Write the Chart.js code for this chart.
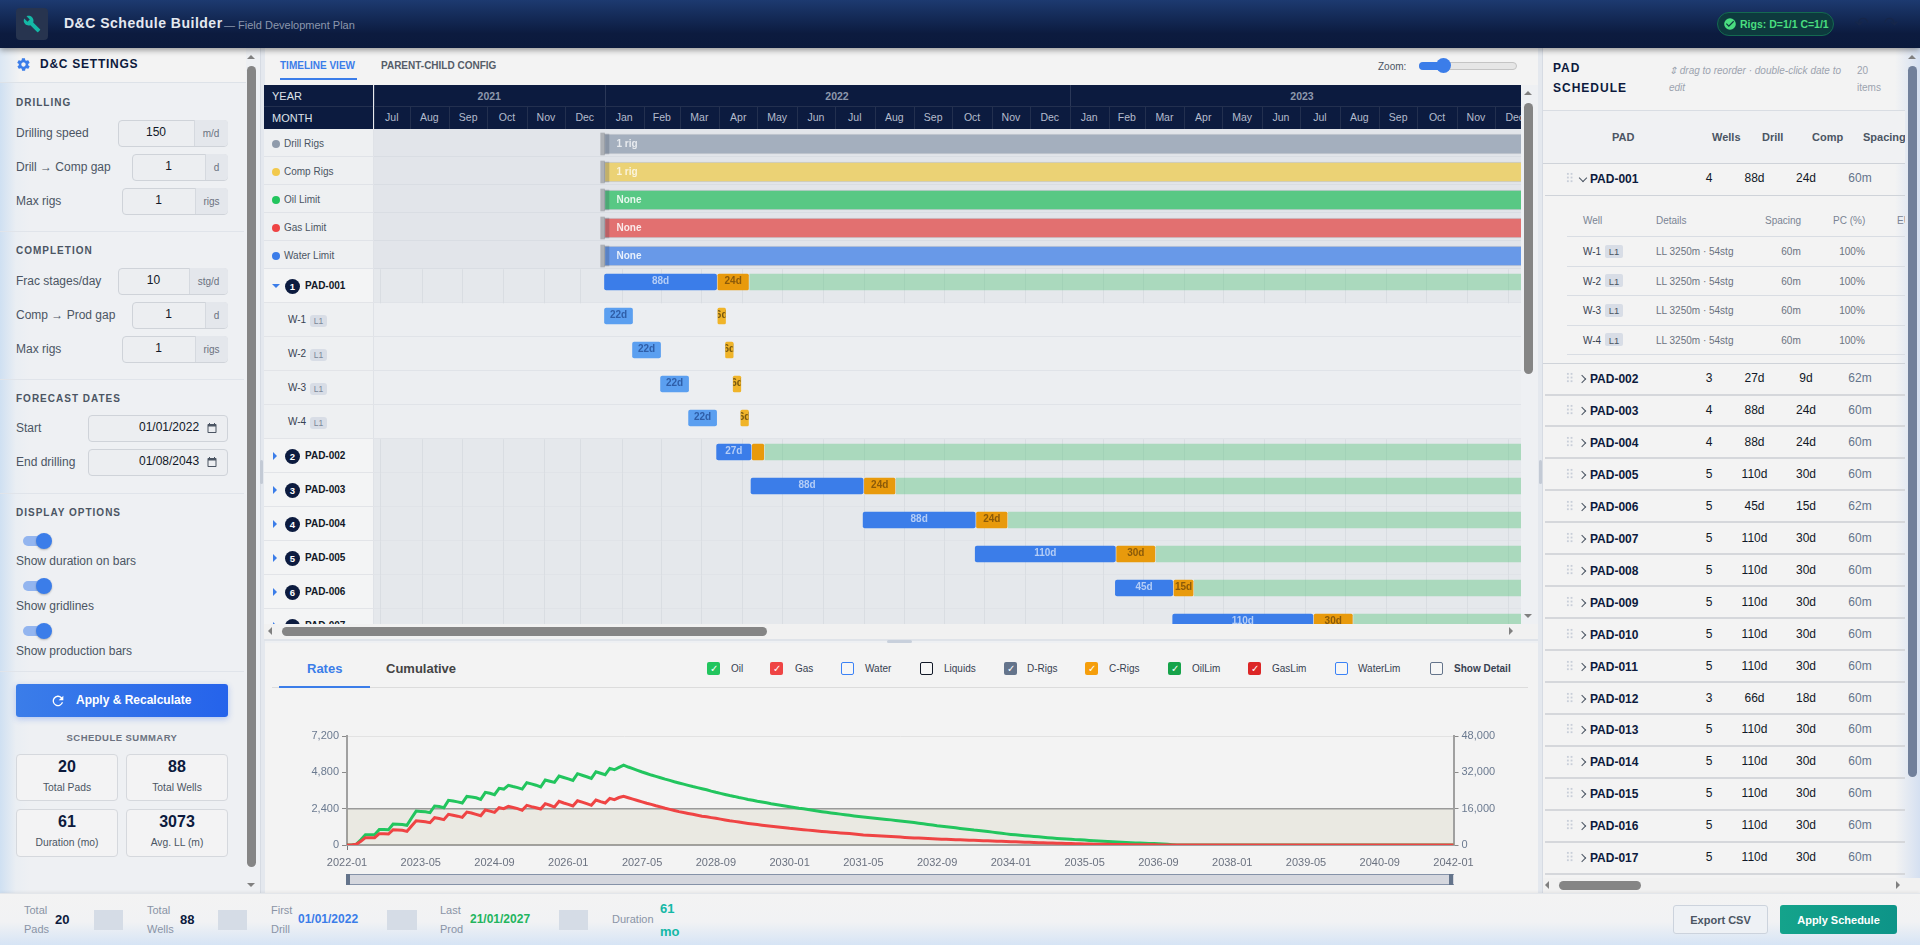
<!DOCTYPE html>
<html>
<head>
<meta charset="utf-8">
<title>D&amp;C Schedule Builder</title>
<script src="https://cdn.jsdelivr.net/npm/chart.js@4/dist/chart.umd.js"></script>
<style>
  html, body { margin: 0; padding: 0; width: 1920px; height: 945px; overflow: hidden; background: #eef0f3; }
  body { font-family: "Liberation Sans", Arial, sans-serif; font-size: 12px; color: #4b5563; }
  #page { position: absolute; left: 0; top: 0; width: 1920px; height: 945px; overflow: hidden; }
  .b { position: absolute; box-sizing: border-box; }
  .t { position: absolute; white-space: nowrap; transform: translateY(-50%); }
  .c { position: absolute; white-space: nowrap; transform: translate(-50%, -50%); text-align: center; }
  .layer { position: absolute; left: 0; top: 0; width: 1920px; height: 945px; }
  canvas { position: absolute; display: block; }
</style>
</head>
<body>
<div id="page"></div>
<script>
// ---- production chart data (monthly from 2022-01 to 2042-01)
const oilRate = [
  0,0,44,350,680,680,680,1030,1020,1010,1385,1375,
  1360,1300,1780,2240,2220,2190,2135,2575,2540,2465,2950,2900,
  2850,2770,3210,3170,3120,3015,3475,3420,3320,3740,3695,3940,
  3860,3790,3695,4115,4040,3950,3830,4290,4210,4135,4555,4460,
  4370,4270,4710,4610,4510,4400,4840,4740,4640,5060,4970,5130,
  5280,5150,5040,4930,4820,4720,4620,4530,4440,4350,4270,4180,
  4100,4020,3940,3860,3790,3720,3650,3560,3480,3410,3340,3270,
  3210,3140,3080,3010,2950,2890,2840,2790,2730,2680,2630,2580,
  2530,2480,2430,2390,2340,2290,2245,2200,2160,2120,2080,2040,
  2000,1960,1920,1885,1850,1820,1790,1755,1720,1690,1660,1625,
  1590,1555,1520,1480,1440,1400,1360,1320,1275,1240,1205,1170,
  1135,1095,1055,1020,985,960,930,890,850,810,770,735,
  700,670,640,615,590,565,540,510,480,455,430,410,
  395,375,355,340,325,305,285,265,250,235,220,205,
  190,170,150,135,125,115,105,95,85,65,45,20,
  0,0,0,0,0,0,0,0,0,0,0,0, 0,0,0,0,0,0,0,0,0,0,0,0, 0,0,0,0,0,0,0,0,0,0,0,0,
  0,0,0,0,0,0,0,0,0,0,0,0, 0,0,0,0,0,0,0,0,0,0,0,0, 0
];
const gasRate = [
  0,0,290,1600,3230,3230,3230,4990,4950,4840,6750,6600,
  6450,6010,8400,10700,10500,10200,9830,12030,11700,11150,13500,13100,
  12700,12180,14520,14100,13500,12910,15400,14900,14380,16430,15990,17020,
  16500,16000,15260,17460,16900,16400,15840,18190,17500,16720,19220,18500,
  17900,17160,19510,18900,18200,17460,19800,19100,18480,20540,19950,20900,
  21420,20800,20200,19600,19000,18400,17900,17300,16800,16200,15700,15200,
  14700,14300,13900,13500,13100,12700,12400,12050,11740,11400,11050,10700,
  10400,10100,9800,9500,9240,8980,8740,8500,8270,8050,7840,7590,
  7340,7140,6940,6740,6550,6350,6160,5980,5810,5640,5480,5320,
  5170,5020,4820,4600,4400,4290,4170,4060,3950,3840,3710,3600,
  3480,3350,3230,3130,3030,2930,2840,2740,2640,2570,2490,2420,
  2350,2270,2200,2130,2060,1990,1920,1850,1780,1700,1620,1550,
  1470,1400,1320,1240,1170,1100,1040,980,920,870,810,760,
  700,650,590,530,440,410,380,350,320,290,260,230,
  200,170,150,130,110,95,80,65,50,40,30,20,
  0,0,0,0,0,0,0,0,0,0,0,0, 0,0,0,0,0,0,0,0,0,0,0,0, 0,0,0,0,0,0,0,0,0,0,0,0,
  0,0,0,0,0,0,0,0,0,0,0,0, 0,0,0,0,0,0,0,0,0,0,0,0, 0
];
const limitLevel = [2400, 2400];
const monthLabels = [];
for (let y = 2022; y <= 2042; y++) for (let m = 1; m <= (y == 2042 ? 1 : 12); m++) monthLabels.push(y + "-" + String(m).padStart(2, "0"));

// ---- gantt data, days counted from 01/01/2022
const limitRows = ["Drill Rigs", "Comp Rigs", "Oil Limit", "Gas Limit", "Water Limit"];
const limitTags = ["1 rig", "1 rig", "None", "None", "None"];
const limitColors = ["#a4afbe", "#ebd275", "#58c884", "#e27070", "#6899e8"];
const limitDots = ["#8f9bab", "#f2c94c", "#22c55e", "#ef4444", "#3b7de9"];
const ganttRows = ["PAD-001","W-1","W-2","W-3","W-4","PAD-002","PAD-003","PAD-004","PAD-005","PAD-006","PAD-007"];
const drillSpans = [[0,88],[0,22],[22,44],[44,66],[66,88],[88,115],[115,203],[203,291],[291,401],[401,446],[446,556]];
const compSpans = [[89,113],[89,95],[95,101],[101,107],[107,113],[116,125],[204,228],[292,316],[402,432],[447,462],[557,587]];
const prodSpans = [[114,720],null,null,null,null,[126,720],[229,720],[317,720],[433,720],[463,720],[588,720]];
const drillTags = ["88d","22d","22d","22d","22d","27d","88d","88d","110d","45d","110d"];
const compTags = ["24d","6d","6d","6d","6d","","24d","24d","30d","15d","30d"];
const gridDays = [-176,-143.5,-112,-80,-47.7,-19,13.5,44,76,107.6,139.6,171.7,203.4,235.4,266.2,298,330.3,359.3,391.5,422.9,455.1,485.7,517.9,550,581.5,613.6,645,677.2,709.4];

// ---- pad table data
const padNames = ["PAD-002","PAD-003","PAD-004","PAD-005","PAD-006","PAD-007","PAD-008","PAD-009","PAD-010","PAD-011","PAD-012","PAD-013","PAD-014","PAD-015","PAD-016","PAD-017"];
const padWells = [3,4,4,5,5,5,5,5,5,5,3,5,5,5,5,5];
const padDrill = ["27d","88d","88d","110d","45d","110d","110d","110d","110d","110d","66d","110d","110d","110d","110d","110d"];
const padComp = ["9d","24d","24d","30d","15d","30d","30d","30d","30d","30d","18d","30d","30d","30d","30d","30d"];
const padSpacing = ["62m","60m","60m","60m","62m","60m","60m","60m","60m","60m","60m","60m","60m","60m","60m","60m"];
const padLegend = [["Oil","#22c55e",1,707,731],["Gas","#ef4444",1,770,795],["Water","#3b82f6",0,841,865],["Liquids","#111827",0,920,944],["D-Rigs","#64748b",1,1004,1027],["C-Rigs","#f59e0b",1,1085,1109],["OilLim","#16a34a",1,1168,1192],["GasLim","#dc2626",1,1248,1272],["WaterLim","#3b82f6",0,1335,1358],["Show Detail","#64748b",0,1430,1454]];

// ---- small dom helpers, everything is in page pixels
const page = document.getElementById("page");
function box(x, y, w, h, css, parent) {
  const d = document.createElement("div");
  d.className = "b";
  d.style.cssText = `left:${x}px;top:${y}px;width:${w}px;height:${h}px;${css || ""}`;
  (parent || page).appendChild(d);
  return d;
}
function txt(x, y, s, css, parent) {
  const d = document.createElement("div");
  d.className = "t";
  d.style.cssText = `left:${x}px;top:${y}px;${css || ""}`;
  d.textContent = s;
  (parent || page).appendChild(d);
  return d;
}
function mid(x, y, s, css, parent) {
  const d = txt(x, y, s, css, parent);
  d.className = "c";
  return d;
}
function layer(x0, y0, x1, y1) {
  const d = document.createElement("div");
  d.className = "layer";
  d.style.clipPath = `polygon(${x0}px ${y0}px,${x1}px ${y0}px,${x1}px ${y1}px,${x0}px ${y1}px)`;
  page.appendChild(d);
  return d;
}
function tri(x, y, dir, size, color, parent) {
  const s = size, side = `${s}px solid transparent`, full = `${s}px solid ${color}`;
  const css = { up: `border-left:${side};border-right:${side};border-bottom:${full};`, down: `border-left:${side};border-right:${side};border-top:${full};`, left: `border-top:${side};border-bottom:${side};border-right:${full};`, right: `border-top:${side};border-bottom:${side};border-left:${full};` }[dir];
  box(x - s, y - s / 2 - (dir == "left" || dir == "right" ? s / 2 : 0), 2 * s, dir == "left" || dir == "right" ? 2 * s : s, "width:auto;height:auto;" + css, parent);
}
function icon(x, y, size, path, color, parent) {
  const d = box(x, y, size, size, "", parent);
  d.innerHTML = `<svg xmlns="http://www.w3.org/2000/svg" viewBox="0 0 24 24" width="${size}" height="${size}" fill="${color}">${path}</svg>`;
}
const ICON_WRENCH = '<path d="M22.7 19l-9.1-9.1c.9-2.3.4-5-1.5-6.9-2-2-5-2.4-7.4-1.3L9 6 6 9 1.6 4.7C.4 7.1.9 10.1 2.9 12.1c1.9 1.9 4.6 2.4 6.9 1.5l9.1 9.1c.4.4 1 .4 1.4 0l2.3-2.3c.5-.4.5-1.1.1-1.4z"/>';
const ICON_GEAR = '<path d="M19.4 13c.1-.3.1-.7.1-1s0-.7-.1-1l2.1-1.6c.2-.2.2-.4.1-.6l-2-3.5c-.1-.2-.4-.3-.6-.2l-2.5 1c-.5-.4-1.1-.7-1.7-1l-.4-2.7c0-.2-.3-.4-.5-.4h-4c-.2 0-.5.2-.5.4l-.4 2.7c-.6.3-1.2.6-1.7 1l-2.5-1c-.2-.1-.5 0-.6.2l-2 3.5c-.1.2-.1.5.1.6L4.6 11c-.1.3-.1.7-.1 1s0 .7.1 1l-2.1 1.6c-.2.2-.2.4-.1.6l2 3.5c.1.2.4.3.6.2l2.5-1c.5.4 1.1.7 1.7 1l.4 2.7c0 .2.3.4.5.4h4c.2 0 .5-.2.5-.4l.4-2.7c.6-.3 1.2-.6 1.7-1l2.5 1c.2.1.5 0 .6-.2l2-3.5c.1-.2.1-.5-.1-.6L19.4 13zM12 15.5c-1.9 0-3.5-1.6-3.5-3.5s1.6-3.5 3.5-3.5 3.5 1.6 3.5 3.5-1.6 3.5-3.5 3.5z"/>';
const ICON_CAL = '<path d="M19 4h-1V2h-2v2H8V2H6v2H5C3.9 4 3 4.9 3 6v14c0 1.1.9 2 2 2h14c1.1 0 2-.9 2-2V6c0-1.1-.9-2-2-2zm0 16H5V9h14v11z"/>';
const ICON_REFRESH = '<path d="M17.7 6.3A8 8 0 1 0 19.7 14h-2.1a6 6 0 1 1-1.4-6.2L13 11h7V4l-2.3 2.3z"/>';
const ICON_CHECK = '<path d="M12 2a10 10 0 1 0 0 20 10 10 0 0 0 0-20zm-2 15l-5-5 1.4-1.4L10 14.2l7.6-7.6L19 8l-9 9z"/>';

// ---- header
box(0, 0, 1920, 48, "background:linear-gradient(180deg,#1d3a70 0%,#0c1b3f 70%,#0b1a3c 100%);box-shadow:0 2px 6px rgba(0,0,0,.4);z-index:5");
const top_ = layer(0, 0, 1920, 48); top_.style.zIndex = 6;
box(16, 8, 32, 32, "background:#27344f;border-radius:4px", top_);
icon(23, 15, 18, ICON_WRENCH, "#14b8a6", top_);
txt(64, 23, "D&C Schedule Builder", "font-size:14px;font-weight:bold;letter-spacing:.5px;color:#e5e9f0", top_);
txt(224, 25, "— Field Development Plan", "font-size:11px;color:#8b97ad", top_);
box(1717, 12, 117, 24, "background:#0d3a3e;border:1px solid #146a50;border-radius:12px", top_);
icon(1723, 17, 14, ICON_CHECK, "#4ade80", top_);
txt(1740, 24, "Rigs: D=1/1 C=1/1", "font-size:10.5px;font-weight:bold;color:#4ade80", top_);
txt(1855, 23, "↶", "font-size:17px;color:#16264a", top_);
txt(1884, 23, "↷", "font-size:17px;color:#16264a", top_);

// ---- left settings panel
box(0, 48, 260, 846, "background:linear-gradient(90deg,#cfe0f2 0,#eaeef3 16px,#eef0f3 30px)");
box(0, 48, 246, 35, "background:linear-gradient(90deg,#dbe7f3 0,#f3f3f3 20px);border-bottom:1px solid #dde2e8");
icon(16, 57, 15, ICON_GEAR, "#3b7de9");
txt(40, 64, "D&C SETTINGS", "font-size:12px;font-weight:bold;letter-spacing:.75px;color:#0c1a3d");
function sectionHead(y, s) { txt(16, y, s, "font-size:10px;font-weight:bold;letter-spacing:1px;color:#4b5563"); }
function sectionLine(y) { box(0, y, 244, 1, "background:#e0e4ea"); }
function field(y, label, value, unit, x0, xu) {
  txt(16, y, label, "font-size:12px;color:#4b5563");
  box(x0, y - 13.5, 228 - x0, 27, "background:#eceef1;border:1px solid #cfd3d9;border-radius:4px");
  box(xu, y - 13, 227.5 - xu, 26, "background:#e4e7ec;border-left:1px solid #d5d9df;border-radius:0 4px 4px 0");
  mid((x0 + xu) / 2, y - 1, value, "font-size:12px;color:#111827");
  mid((xu + 228) / 2, y, unit, "font-size:10px;color:#6b7280");
}
sectionHead(102, "DRILLING");
field(133, "Drilling speed", "150", "m/d", 118, 194);
field(167, "Drill → Comp gap", "1", "d", 132, 205);
field(201, "Max rigs", "1", "rigs", 122, 195);
sectionLine(231);
sectionHead(250, "COMPLETION");
field(281, "Frac stages/day", "10", "stg/d", 118, 189);
field(315, "Comp → Prod gap", "1", "d", 132, 205);
field(349, "Max rigs", "1", "rigs", 122, 195);
sectionLine(379);
sectionHead(398, "FORECAST DATES");
function dateField(y, label, value) {
  txt(16, y, label, "font-size:12px;color:#4b5563");
  box(88, y - 13.5, 140, 27, "background:#eceef1;border:1px solid #cfd3d9;border-radius:4px");
  txt(139, y - 1, value, "font-size:12px;color:#111827");
  icon(206, y - 6, 12, ICON_CAL, "#4b5563");
}
dateField(428, "Start", "01/01/2022");
dateField(462, "End drilling", "01/08/2043");
sectionLine(493);
sectionHead(512, "DISPLAY OPTIONS");
function toggle(y, label) {
  box(23, y - 5, 22, 10, "background:#93b5ef;border-radius:5px");
  box(36, y - 8, 16, 16, "background:#3b7de9;border-radius:50%;box-shadow:0 1px 2px rgba(0,0,0,.25)");
  txt(16, y + 20, label, "font-size:12px;color:#4b5563");
}
toggle(541, "Show duration on bars");
toggle(586, "Show gridlines");
toggle(631, "Show production bars");
sectionLine(671);
box(16, 684, 212, 33, "background:linear-gradient(90deg,#3b7de9,#2563eb);border-radius:3px;box-shadow:0 2px 6px rgba(37,99,235,.3)");
icon(50, 693, 16, ICON_REFRESH, "#fff");
txt(76, 700, "Apply & Recalculate", "font-size:12px;font-weight:bold;color:#fff");
mid(122, 737, "SCHEDULE SUMMARY", "font-size:9.5px;font-weight:bold;letter-spacing:.45px;color:#6b7280");
function statCard(x, y, h, value, label) {
  box(x, y, 102, h, "background:#f3f3f4;border:1px solid #d5d8dd;border-radius:4px");
  mid(x + 51, y + 13, value, "font-size:16px;font-weight:bold;color:#0c1a3d");
  mid(x + 51, y + 32.5, label, "font-size:10.3px;color:#4b5563");
}
statCard(16, 754, 47, "20", "Total Pads");
statCard(126, 754, 47, "88", "Total Wells");
statCard(16, 809, 48, "61", "Duration (mo)");
statCard(126, 809, 48, "3073", "Avg. LL (m)");
// left scrollbar
tri(251.5, 57, "up", 4.5, "#808080");
box(247, 66, 9, 801, "background:#858585;border-radius:5px");
tri(251.5, 885, "down", 4.5, "#808080");
box(260, 48, 5, 846, "background:#e4e8ee;border-left:1px solid #d6dbe3");
box(260, 460, 3, 24, "background:#c3cad5;border-radius:2px");

// ---- middle panel, tabs
box(265, 48, 1273, 37, "background:#f3f3f3");
txt(280, 64.5, "TIMELINE VIEW", "font-size:10px;font-weight:bold;color:#3b7de9");
box(280, 78, 77, 2, "background:#3b7de9");
txt(381, 64.5, "PARENT-CHILD CONFIG", "font-size:10px;font-weight:bold;color:#555c68");
txt(1378, 66, "Zoom:", "font-size:10px;color:#4b5563");
box(1419, 62, 98, 8, "background:#e6e6e6;border:1px solid #c4c4c4;border-radius:4px");
box(1419, 62, 28, 8, "background:#3b7de9;border-radius:4px 0 0 4px");
box(1436, 58, 15, 15, "background:#3b7de9;border-radius:50%");

// ---- gantt shell (header + rows are dom, bars are chart.js)
const DAY0 = 604.5, PX_PER_DAY = 1.274, GANTT_LEFT = 374, GANTT_RIGHT = 1521;
const dayToPx = d => DAY0 + d * PX_PER_DAY;
const dayOf = (y, m) => (Date.UTC(y, m, 1) - Date.UTC(2022, 0, 1)) / 864e5;
const gantt = layer(264, 85, GANTT_RIGHT, 624);
box(264, 85, 1260, 44, "background:#0c1b3f", gantt);
box(264, 106, 1260, 1, "background:#23304f", gantt);
box(373, 85, 1, 44, "background:#e8eaee", gantt);
txt(272, 95.5, "YEAR", "font-size:11px;color:#dfe3ea", gantt);
txt(272, 118, "MONTH", "font-size:11px;color:#dfe3ea", gantt);
[[2021, GANTT_LEFT, dayToPx(0)], [2022, dayToPx(0), dayToPx(365)], [2023, dayToPx(365), dayToPx(730)]].forEach(([y, a, b]) => {
  mid((a + b) / 2, 95.5, String(y), "font-size:10.5px;font-weight:bold;color:#8e98ad", gantt);
  box(a, 85, 1, 21, "background:#2b3858", gantt);
});
const monthNames = ["Jan","Feb","Mar","Apr","May","Jun","Jul","Aug","Sep","Oct","Nov","Dec"];
for (let i = 6; i < 36; i++) {
  const a = Math.max(GANTT_LEFT, dayToPx(dayOf(2021, i))), b = dayToPx(dayOf(2021, i + 1));
  box(a, 107, 1, 22, "background:#23304f", gantt);
  mid((a + b) / 2, 117, monthNames[i % 12], "font-size:10.5px;color:#b4bccd", gantt);
}
limitRows.forEach((name, i) => {
  const y = 129.3 + i * 28;
  box(264, y, 110, 28, "background:#eef0f2;border-bottom:1px solid #e0e3e8;border-right:1px solid #dfe2e7", gantt);
  box(374, y, 1150, 28, "background:#e2e5ea;border-bottom:1px solid #d9dde3", gantt);
  box(272, y + 10.5, 8, 8, `background:${limitDots[i]};border-radius:50%`, gantt);
  txt(284, y + 13.5, name, "font-size:10px;color:#4b5563", gantt);
});
ganttRows.forEach((name, i) => {
  const y = 269.3 + i * 34, isPad = name.startsWith("PAD");
  box(264, y, 110, 34, `background:${isPad ? "#f3f4f5" : "#eef0f2"};border-bottom:1px solid #e2e4e8;border-right:1px solid #dfe2e7`, gantt);
  box(374, y, 1150, 34, `background:${isPad ? "#e5e8ec" : "#eceef1"};border-bottom:1px solid #e0e3e8`, gantt);
  if (isPad) {
    if (i == 0) tri(276.5, y + 17, "down", 4.5, "#3b7de9", gantt); else tri(277, y + 17.5, "right", 4.5, "#3b7de9", gantt);
    box(285, y + 9.5, 15, 15, "background:#0c1b3f;border-radius:50%", gantt);
    const num = i == 0 ? 1 : i - 3;
    mid(292.5, y + 17, String(num), "font-size:9.5px;font-weight:bold;color:#fff", gantt);
    txt(305, y + 16, name, "font-size:10px;font-weight:bold;color:#111827", gantt);
  } else {
    txt(288, y + 15.5, name, "font-size:10px;color:#374151", gantt);
    box(310, y + 11.5, 17, 12, "background:#d8dde6;border-radius:3px", gantt);
    mid(318.5, y + 17.5, "L1", "font-size:8.5px;color:#7b8798", gantt);
  }
});

// writes the little duration / rig captions on the bars, clipped to the bar like the original
const barTags = {
  id: "barTags",
  afterDatasetsDraw(chart) {
    const ctx = chart.ctx;
    ctx.font = "bold 10px 'Liberation Sans'";
    ctx.textBaseline = "middle";
    chart.data.datasets.forEach((ds, d) => {
      if (!ds.tags) return;
      chart.getDatasetMeta(d).data.forEach((bar, i) => {
        if (!ds.tags[i]) return;
        ctx.save();
        ctx.beginPath();
        ctx.rect(bar.base, bar.y - 10, bar.x - bar.base, 20);
        ctx.clip();
        ctx.fillStyle = ds.tagColor(i);
        if (ds.tagLeft) { ctx.textAlign = "left"; ctx.fillText(ds.tags[i], bar.base + ds.tagLeft, bar.y + 0.5); }
        else { ctx.textAlign = "center"; ctx.fillText(ds.tags[i], (bar.x + bar.base) / 2, bar.y - 0.5); }
        ctx.restore();
      });
    });
  }
};
// the month lines only run through the pad rows, not the well rows
const padGrid = {
  id: "padGrid",
  beforeDatasetsDraw(chart) {
    const ctx = chart.ctx, xs = chart.scales.x, ys = chart.scales.y;
    ctx.save();
    ctx.strokeStyle = "#d9dde2";
    ctx.lineWidth = 1;
    ganttRows.forEach((name, i) => {
      if (!name.startsWith("PAD")) return;
      const c = ys.getPixelForValue(i);
      gridDays.forEach(d => {
        const x = Math.round(xs.getPixelForValue(d)) + .5;
        ctx.beginPath(); ctx.moveTo(x, c - 12.7); ctx.lineTo(x, c + 21.3); ctx.stroke();
      });
    });
    ctx.restore();
  }
};
function ganttCanvas(top, height) {
  const cv = document.createElement("canvas");
  cv.width = GANTT_RIGHT - GANTT_LEFT; cv.height = height;
  cv.style.cssText = `left:${GANTT_LEFT}px;top:${top}px;width:${cv.width}px;height:${height}px`;
  gantt.appendChild(cv);
  return cv;
}
const ganttScales = labels => ({
  x: { type: "linear", display: false, min: (GANTT_LEFT - DAY0) / PX_PER_DAY, max: (GANTT_RIGHT - DAY0) / PX_PER_DAY },
  y: { type: "category", labels: labels, display: false }
});
const quiet = { legend: { display: false }, tooltip: { enabled: false } };

new Chart(ganttCanvas(130.3, 140), {
  type: "bar",
  plugins: [barTags],
  data: {
    labels: limitRows,
    datasets: [
      { label: "edge", data: limitRows.map(() => [0, 3.5]), backgroundColor: "rgba(30,40,60,.2)", barThickness: 20, grouped: false },
      { label: "cap", data: limitRows.map(() => [-3, 0]), backgroundColor: "#aeb1b6", barThickness: 22, grouped: false },
      { label: "limits", data: limitRows.map(() => [0, 720]), backgroundColor: limitColors, borderColor: "rgba(40,50,70,.14)", borderWidth: 1, borderSkipped: false, barThickness: 20, grouped: false,
        tags: limitTags, tagLeft: 12, tagColor: i => i < 2 ? "rgba(255,255,255,.75)" : "rgba(255,255,255,.85)" }
    ]
  },
  options: { indexAxis: "y", responsive: false, animation: false, layout: { padding: 0 }, scales: ganttScales(limitRows), plugins: quiet }
});

const isWell = i => !ganttRows[i].startsWith("PAD");
new Chart(ganttCanvas(265, 374), {
  type: "bar",
  plugins: [padGrid, barTags],
  data: {
    labels: ganttRows,
    datasets: [
      { label: "Drill", data: drillSpans, barThickness: 16, grouped: false, borderRadius: 2, borderSkipped: false,
        backgroundColor: c => isWell(c.dataIndex) ? "#5b9ff0" : "#3b7de9",
        tags: drillTags, tagColor: i => isWell(i) ? "#2f5ea8" : "#b4cdf6" },
      { label: "Comp", data: compSpans, barThickness: 16, grouped: false, borderRadius: 1.5, borderSkipped: false,
        backgroundColor: c => isWell(c.dataIndex) ? "#f0b429" : "#e89a0c",
        tags: compTags, tagColor: i => isWell(i) ? "#7a5a10" : "#8a5a0a" },
      { label: "Prod", data: prodSpans, barThickness: 16, grouped: false, backgroundColor: "rgba(60,189,102,.35)" }
    ]
  },
  options: { indexAxis: "y", responsive: false, animation: false, layout: { padding: 0 }, scales: ganttScales(ganttRows), plugins: quiet }
});

// gantt scrollbars
tri(1528.5, 93, "up", 4.5, "#808080");
box(1524, 103, 9, 271, "background:#858585;border-radius:5px");
tri(1528.5, 616, "down", 4.5, "#808080");
box(264, 624, 1274, 15, "background:#f1f1f1");
tri(272, 631.5, "left", 4.5, "#808080");
box(282, 627, 485, 9, "background:#858585;border-radius:5px");
tri(1513, 631.5, "right", 4.5, "#808080");
box(264, 639, 1274, 2, "background:#dfe3e9");
box(887, 640, 25, 3, "background:#c8d0dc;border-radius:2px");

// ---- rates chart panel
box(265, 643, 1273, 251, "background:#f3f3f3;border-bottom:1px solid #e3e6ea");
txt(307, 668, "Rates", "font-size:13px;font-weight:bold;color:#3b7de9");
txt(386, 668, "Cumulative", "font-size:13px;font-weight:bold;color:#444");
box(272, 687, 1256, 1, "background:#dcdcdc");
box(279, 686, 91, 2, "background:#3b7de9");
padLegend.forEach(([name, color, on, bx, lx]) => {
  const b = box(bx, 662, 13, 13, on ? `background:${color};border-radius:2px` : `border:1.5px solid ${color};background:#f6f6f6;border-radius:2px`);
  if (on) mid(6.5, 6, "✓", "font-size:10px;color:#fff", b);
  txt(lx, 668, name, `font-size:10px;color:#374151;${name == "Show Detail" ? "font-weight:bold;" : ""}`);
});

const rateCanvas = document.createElement("canvas");
rateCanvas.width = 1220; rateCanvas.height = 146;
rateCanvas.style.cssText = "left:290px;top:726px;width:1220px;height:146px";
page.appendChild(rateCanvas);
new Chart(rateCanvas, {
  type: "line",
  data: {
    labels: monthLabels,
    datasets: [
      { label: "Gas", data: gasRate, yAxisID: "y2", borderColor: "#ef4444", borderWidth: 3, pointRadius: 0, tension: 0 },
      { label: "Oil", data: oilRate, yAxisID: "y", borderColor: "#22c55e", borderWidth: 3, pointRadius: 0, tension: 0 },
      { label: "Limit", data: limitLevel.map((v, i) => ({ x: monthLabels[i * (monthLabels.length - 1)], y: v })), yAxisID: "y", borderColor: "#9a9a9a", borderWidth: 1.5, pointRadius: 0, tension: 0, fill: "origin", backgroundColor: "rgba(176,168,110,.12)" }
    ]
  },
  options: {
    responsive: false,
    animation: false,
    layout: { padding: { top: 10, bottom: 0, left: 0, right: 0 } },
    plugins: quiet,
    scales: {
      x: {
        type: "category",
        offset: false,
        afterFit: s => { s.height = 27; },
        border: { color: "#a0a0a0", width: 2 },
        grid: { drawOnChartArea: false, tickLength: 5, tickColor: c => c.index % 16 == 0 ? "#777" : "transparent" },
        ticks: { autoSkip: false, maxRotation: 0, padding: 6, color: "#6b7280", font: { family: "Liberation Sans", size: 11 }, callback: (v, i) => i % 16 == 0 ? monthLabels[i] : null }
      },
      y: {
        position: "left", min: 0, max: 7200,
        afterFit: s => { s.width = 57; },
        border: { color: "#a0a0a0", width: 2 },
        grid: { tickLength: 5, tickColor: "#8a8a8a", color: c => c.tick.value == 7200 ? "#e2e2e2" : "transparent", borderDash: [3, 3] },
        ticks: { stepSize: 2400, padding: 3, color: "#6b7a90", font: { family: "Liberation Sans", size: 11 }, callback: v => v.toLocaleString("en-US") }
      },
      y2: {
        position: "right", min: 0, max: 48000,
        afterFit: s => { s.width = 56.5; },
        border: { color: "#a0a0a0", width: 2 },
        grid: { drawOnChartArea: false, tickLength: 5, tickColor: "#8a8a8a" },
        ticks: { stepSize: 16000, padding: 3, color: "#6b7a90", font: { family: "Liberation Sans", size: 11 }, callback: v => v.toLocaleString("en-US") }
      }
    }
  }
});
// data zoom strip under the chart
box(347, 874, 1106.5, 11, "background:#d5d7de;border-top:1.5px solid #8592a8;border-bottom:1.5px solid #8592a8");
box(346, 874, 4, 11, "background:#64748b");
box(1449, 874, 4, 11, "background:#64748b");

// ---- right pad schedule panel
box(1538, 48, 5, 846, "background:#e4e8ee;border-right:1px solid #d6dbe3");
box(1539, 460, 3, 24, "background:#c3cad5;border-radius:2px");
box(1543, 48, 377, 846, "background:#f3f3f3");
box(1895, 48, 25, 846, "background:linear-gradient(90deg,#f3f3f3,#d5e0f1)");
const side = layer(1543, 48, 1905, 894);
txt(1553, 68, "PAD", "font-size:12px;font-weight:bold;letter-spacing:1px;color:#0c1a3d", side);
txt(1553, 87.5, "SCHEDULE", "font-size:12px;font-weight:bold;letter-spacing:1px;color:#0c1a3d", side);
txt(1669, 69.5, "⇕ drag to reorder · double-click date to", "font-size:10px;font-style:italic;color:#9ca3af", side);
txt(1669, 87, "edit", "font-size:10px;font-style:italic;color:#9ca3af", side);
txt(1857, 69.5, "20", "font-size:10px;color:#9ca3af", side);
txt(1857, 87, "items", "font-size:10px;color:#9ca3af", side);
box(1543, 110, 362, 54, "background:#f0f1f3;border-top:1px solid #d9dde3;border-bottom:1px solid #cfd3d9", side);
const headCss = "font-size:11px;font-weight:bold;color:#4b5563";
txt(1612, 137, "PAD", headCss, side);
txt(1712, 137, "Wells", headCss, side);
txt(1762, 137, "Drill", headCss, side);
txt(1812, 137, "Comp", headCss, side);
txt(1863, 137, "Spacing", headCss, side);
function padRow(y, name, wells, drill, comp, spacing, open) {
  box(1566, y - 7, 8, 11, "background-image:radial-gradient(#c8ced8 1.1px,transparent 1.2px);background-size:3.7px 3.7px", side);
  if (open) box(1580, y - 4, 6, 6, "border-right:1.2px solid #4b5563;border-bottom:1.2px solid #4b5563;transform:rotate(45deg)", side);
  else box(1579, y - 3, 6, 6, "border-right:1.4px solid #4b5563;border-top:1.4px solid #4b5563;transform:rotate(45deg)", side);
  txt(1590, y, name, "font-size:12px;font-weight:bold;color:#0c1a3d", side);
  mid(1709, y - 1, String(wells), "font-size:12px;color:#111827", side);
  mid(1754.5, y - 1, drill, "font-size:12px;color:#111827", side);
  mid(1806, y - 1, comp, "font-size:12px;color:#111827", side);
  mid(1860, y - 1, spacing, "font-size:12px;color:#64748b", side);
}
padRow(179, "PAD-001", 4, "88d", "24d", "60m", true);
box(1545, 195, 360, 1, "background:#cfd3d9", side);
const subCss = "font-size:10px;color:#7a8494";
txt(1583, 220, "Well", subCss, side);
txt(1656, 220, "Details", subCss, side);
txt(1765, 220, "Spacing", subCss, side);
txt(1833, 220, "PC (%)", subCss, side);
txt(1897, 220, "EUR", subCss, side);
box(1567, 236, 338, 1, "background:#d9dde3", side);
["W-1", "W-2", "W-3", "W-4"].forEach((w, i) => {
  const y = 251 + i * 29.6;
  txt(1583, y, w, "font-size:10px;color:#374151", side);
  box(1605, y - 6.5, 18, 13, "background:#d8dde6;border-radius:2px", side);
  mid(1614, y, "L1", "font-size:9.5px;color:#4b5563", side);
  txt(1656, y, "LL 3250m · 54stg", "font-size:10px;color:#6b7280", side);
  mid(1791, y, "60m", "font-size:10px;color:#6b7280", side);
  mid(1852, y, "100%", "font-size:10px;color:#6b7280", side);
  box(1567, y + 14.5, 338, 1, "background:#d9dde3", side);
});
box(1543, 363, 362, 1, "background:#cfd3d9", side);
padNames.forEach((n, i) => {
  const y = 379 + i * 31.95;
  padRow(y, n, padWells[i], padDrill[i], padComp[i], padSpacing[i], false);
  box(1545, y + 14.5, 360, 2, "background:#d5d7db", side);
});
box(1543, 878, 362, 16, "background:#f3f3f3", side);
tri(1912.5, 57, "up", 4.5, "#808080");
box(1908, 66, 9, 711, "background:#71809b;border-radius:5px");
tri(1912.5, 884, "down", 4.5, "#808080");
box(1543, 878, 377, 16, "background:#f1f1f1");
tri(1549, 885, "left", 4.5, "#808080");
box(1559, 881, 82, 9, "background:#858585;border-radius:5px");
tri(1900, 885, "right", 4.5, "#808080");

// ---- footer summary bar
box(0, 893, 1920, 52, "background:linear-gradient(180deg,#f3f3f3 0,#f1f2f4 55%,#d6e4f5 100%);border-top:1px solid #e3e6ea;box-shadow:0 -1px 3px rgba(0,0,0,.06)");
const footLabel = "font-size:11px;color:#8a94a6";
function footPair(x, a, b) { txt(x, 910, a, footLabel); txt(x, 929, b, footLabel); }
footPair(24, "Total", "Pads");
txt(55, 919, "20", "font-size:13px;font-weight:bold;color:#0c1a3d");
box(94, 910, 29, 20, "background:#d5dce6");
footPair(147, "Total", "Wells");
txt(180, 919, "88", "font-size:13px;font-weight:bold;color:#0c1a3d");
box(218, 910, 29, 20, "background:#d5dce6");
footPair(271, "First", "Drill");
txt(298, 919, "01/01/2022", "font-size:12px;font-weight:bold;color:#3b7de9");
box(387, 910, 30, 20, "background:#d5dce6");
footPair(440, "Last", "Prod");
txt(470, 919, "21/01/2027", "font-size:12px;font-weight:bold;color:#22b55e");
box(559, 910, 29, 20, "background:#d5dce6");
txt(612, 919, "Duration", footLabel);
txt(660, 908, "61", "font-size:13px;font-weight:bold;color:#14b8a6");
txt(660, 931, "mo", "font-size:13px;font-weight:bold;color:#14b8a6");
box(1673, 905, 95, 29, "background:#eef1f5;border:1px solid #ccd3dd;border-radius:3px");
mid(1720.5, 919.5, "Export CSV", "font-size:11px;font-weight:bold;color:#4b5563");
box(1780, 905, 117, 29, "background:linear-gradient(90deg,#14a38b,#0d9488);border-radius:3px");
mid(1838.5, 919.5, "Apply Schedule", "font-size:11px;font-weight:bold;color:#fff");
</script>
</body>
</html>
